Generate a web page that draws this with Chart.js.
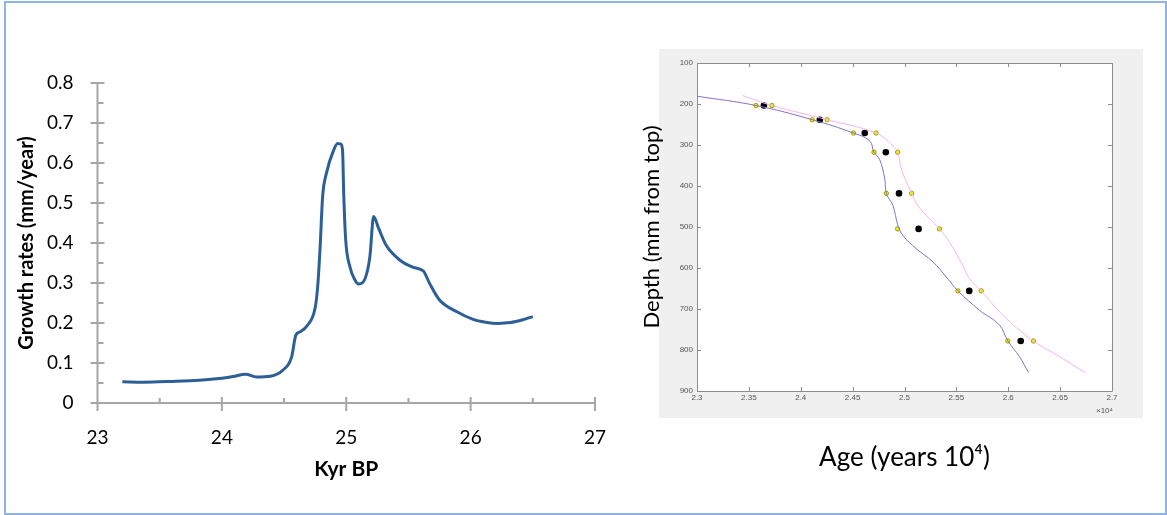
<!DOCTYPE html>
<html>
<head>
<meta charset="utf-8">
<script src="https://cdn.jsdelivr.net/npm/chart.js@4.4.1/dist/chart.umd.min.js"></script>
<style>
  body { margin: 0; background: #fff; }
  #page { position: relative; width: 1167px; height: 515px; overflow: hidden; }
  #frame { position: absolute; left: 4px; top: 1px; width: 1159px; height: 510px; border: 2px solid #8fb4e0; }
  #growth { position: absolute; left: 0; top: 50px; }
  #depth { position: absolute; left: 630px; top: 40px; }
</style>
</head>
<body>
<div id="page">
  <div id="frame"></div>
  <canvas id="growth" width="620" height="450"></canvas>
  <canvas id="depth" width="530" height="460"></canvas>
</div>
<script>
// left panel: growth rate vs age
const kyrBP = [23.2, 23.37, 23.6, 23.82, 24.0, 24.09, 24.19, 24.28, 24.39, 24.49, 24.56, 24.595, 24.63, 24.69, 24.75, 24.77, 24.79, 24.81, 24.84, 24.9, 24.93, 24.955, 24.97, 24.98, 24.995, 25.03, 25.07, 25.1, 25.15, 25.19, 25.22, 25.26, 25.32, 25.43, 25.54, 25.62, 25.67, 25.75, 25.89, 26.02, 26.12, 26.22, 26.32, 26.42, 26.5];
const growthRate = [0.053, 0.052, 0.054, 0.057, 0.062, 0.066, 0.072, 0.065, 0.067, 0.082, 0.114, 0.17, 0.178, 0.195, 0.238, 0.29, 0.39, 0.516, 0.574, 0.633, 0.649, 0.6475, 0.633, 0.52, 0.41, 0.34, 0.3075, 0.2975, 0.31, 0.366, 0.466, 0.437, 0.395, 0.3575, 0.339, 0.33, 0.299, 0.2575, 0.228, 0.209, 0.202, 0.199, 0.201, 0.208, 0.216];

// right panel: age-depth model (years, mm)
const sampleDepth = [203.6, 238.3, 270.8, 317.7, 418, 504.6, 655.8, 778];
const sampleAge = [23645, 24184, 24617, 24820, 24947, 25136, 25624, 26120];
const sampleAgeLow = [23568, 24110, 24508, 24706, 24825, 24934, 25515, 25996];
const sampleAgeHigh = [23722, 24254, 24726, 24934, 25069, 25338, 25740, 26243];

const lowerAge = [23000, 23568, 24110, 24508, 24665, 24706, 24760, 24810, 24825, 24889, 24937, 24986, 25114, 25274, 25403, 25515, 25723, 25915, 25996, 26108, 26195];
const lowerDepth = [181, 203.6, 238.3, 270.8, 290, 317.7, 335, 383, 418, 448, 496.5, 521, 553, 585, 622, 655.8, 703, 739, 778, 816, 855];
const upperAge = [23440, 23722, 24254, 24726, 24889, 24934, 24970, 25069, 25130, 25242, 25338, 25434, 25562, 25627, 25740, 25947, 26243, 26493, 26740];
const upperDepth = [179.4, 203.6, 238.3, 270.8, 302, 317.7, 359, 418, 448, 480, 504.6, 537, 594, 626, 655.8, 715, 778, 816, 855];

const AXIS_GREY = "#a6a6a6";
const BOX_GREY = "#8c8c8c";

const pairs = (xs, ys) => xs.map((x, i) => ({ x: x, y: ys[i] }));

// invisible tick marks just to push the labels away from the axis
const spacer = len => ({ display: true, drawOnChartArea: false, drawTicks: true, tickLength: len, color: "rgba(0,0,0,0)" });

const excelAxes = {
  id: "excelAxes",
  afterDraw(chart) {
    const { ctx, chartArea: a, scales: { x, y } } = chart;
    ctx.save();
    ctx.strokeStyle = AXIS_GREY;
    ctx.lineWidth = 2;
    ctx.beginPath();
    ctx.moveTo(a.left, a.top);
    ctx.lineTo(a.left, a.bottom);
    ctx.lineTo(a.right, a.bottom);
    const yt = y.ticks.map(t => t.value);
    yt.forEach((v, i) => {
      const py = y.getPixelForValue(v);
      ctx.moveTo(a.left - 7, py);
      ctx.lineTo(a.left + 7, py);
      if (i > 0) {
        const pm = y.getPixelForValue((v + yt[i - 1]) / 2);
        ctx.moveTo(a.left, pm);
        ctx.lineTo(a.left + 6, pm);
      }
    });
    const xt = x.ticks.map(t => t.value);
    xt.forEach((v, i) => {
      const px = x.getPixelForValue(v);
      ctx.moveTo(px, a.bottom - 6);
      ctx.lineTo(px, a.bottom + 8);
      if (i > 0) {
        const pm = x.getPixelForValue((v + xt[i - 1]) / 2);
        ctx.moveTo(pm, a.bottom - 5);
        ctx.lineTo(pm, a.bottom);
      }
    });
    ctx.stroke();
    ctx.restore();
  },
};

new Chart(document.getElementById("growth"), {
  type: "line",
  data: {
    datasets: [{
      data: pairs(kyrBP, growthRate),
      borderColor: "#2d5f97",
      borderWidth: 3,
      pointRadius: 0,
      cubicInterpolationMode: "monotone",
    }],
  },
  options: {
    responsive: false,
    animation: false,
    layout: { padding: { top: 33, right: 25, left: 0, bottom: 0 } },
    plugins: { legend: { display: false }, tooltip: { enabled: false } },
    scales: {
      x: {
        type: "linear", min: 23, max: 27,
        grid: spacer(23),
        border: { display: false },
        ticks: { stepSize: 1, padding: 0, color: "#000", font: { family: "Lato", size: 19 } },
        title: { display: true, text: "Kyr BP", color: "#000", padding: { bottom: 18 }, font: { family: "Lato", size: 21, weight: "bold" } },
        afterFit: s => { s.height = 97; },
      },
      y: {
        min: 0, max: 0.8,
        grid: spacer(24),
        border: { display: false },
        ticks: { stepSize: 0.1, padding: 0, color: "#000", font: { family: "Lato", size: 19 } },
        title: { display: true, text: "Growth rates (mm/year)", color: "#000", padding: { top: 15 }, font: { family: "Lato", size: 20, weight: "bold" } },
        afterFit: s => { s.width = 97.5; },
      },
    },
  },
  plugins: [excelAxes],
});

const matlabAxes = {
  id: "matlabAxes",
  beforeDraw(chart) {
    const { ctx, chartArea: a } = chart;
    ctx.save();
    ctx.fillStyle = "#f0f0f0";
    ctx.fillRect(a.left - 38, a.top - 14, a.right - a.left + 69, a.bottom - a.top + 41);
    ctx.fillStyle = "#fff";
    ctx.fillRect(a.left, a.top, a.right - a.left, a.bottom - a.top);
    ctx.restore();
  },
  afterDraw(chart) {
    const { ctx, chartArea: a, scales: { x, y } } = chart;
    ctx.save();
    ctx.strokeStyle = BOX_GREY;
    ctx.lineWidth = 1;
    ctx.beginPath();
    ctx.rect(Math.round(a.left) + 0.5, Math.round(a.top) + 0.5, Math.round(a.right - a.left), Math.round(a.bottom - a.top));
    x.ticks.forEach(t => {
      const px = Math.round(x.getPixelForValue(t.value)) + 0.5;
      ctx.moveTo(px, a.bottom); ctx.lineTo(px, a.bottom - 4);
      ctx.moveTo(px, a.top); ctx.lineTo(px, a.top + 4);
    });
    y.ticks.forEach(t => {
      const py = Math.round(y.getPixelForValue(t.value)) + 0.5;
      ctx.moveTo(a.left, py); ctx.lineTo(a.left + 4, py);
      ctx.moveTo(a.right, py); ctx.lineTo(a.right - 4, py);
    });
    ctx.stroke();
    ctx.fillStyle = "#555";
    ctx.font = "8px 'Liberation Sans'";
    ctx.textAlign = "right";
    ctx.textBaseline = "middle";
    ctx.fillText("\u00d710\u2074", a.right + 1, a.bottom + 20);
    ctx.restore();
  },
};

const tickFont = { family: "Liberation Sans", size: 8 };

new Chart(document.getElementById("depth"), {
  type: "scatter",
  data: {
    datasets: [
      { data: pairs(lowerAge, lowerDepth), showLine: true, borderColor: "#8a6fc4", borderWidth: 1, pointRadius: 0, tension: 0.4 },
      { data: pairs(upperAge, upperDepth), showLine: true, borderColor: "#f4b4f4", borderWidth: 1, pointRadius: 0, tension: 0.4 },
      { data: pairs(sampleAgeLow, sampleDepth), pointRadius: 2.2, backgroundColor: "#f0f000", borderColor: "#8a8a00", borderWidth: 0.8 },
      { data: pairs(sampleAgeHigh, sampleDepth), pointRadius: 2.2, backgroundColor: "#f0f000", borderColor: "#8a8a00", borderWidth: 0.8 },
      { data: pairs(sampleAge, sampleDepth), pointRadius: 3.3, backgroundColor: "#000", borderColor: "#000", borderWidth: 0 },
    ],
  },
  options: {
    responsive: false,
    animation: false,
    layout: { padding: { top: 23, right: 48, left: 0, bottom: 0 } },
    plugins: { legend: { display: false }, tooltip: { enabled: false } },
    scales: {
      x: {
        type: "linear", min: 23000, max: 27000,
        grid: { display: false, drawTicks: false },
        border: { display: false },
        ticks: { stepSize: 500, padding: 2, color: "#555", font: tickFont, callback: v => String(v / 10000) },
        title: { display: true, text: "Age (years 10\u2074)", color: "#000", padding: { bottom: 27 }, font: { family: "Lato", size: 26 } },
        afterFit: s => { s.height = 109; },
      },
      y: {
        min: 100, max: 900, reverse: true,
        grid: { display: false, drawTicks: false },
        border: { display: false },
        ticks: { stepSize: 100, padding: 4, color: "#555", font: tickFont },
        title: { display: true, text: "Depth (mm from top)", color: "#000", padding: { top: 9 }, font: { family: "Lato", size: 22 } },
        afterFit: s => { s.width = 67; },
      },
    },
  },
  plugins: [matlabAxes],
});
</script>
</body>
</html>
